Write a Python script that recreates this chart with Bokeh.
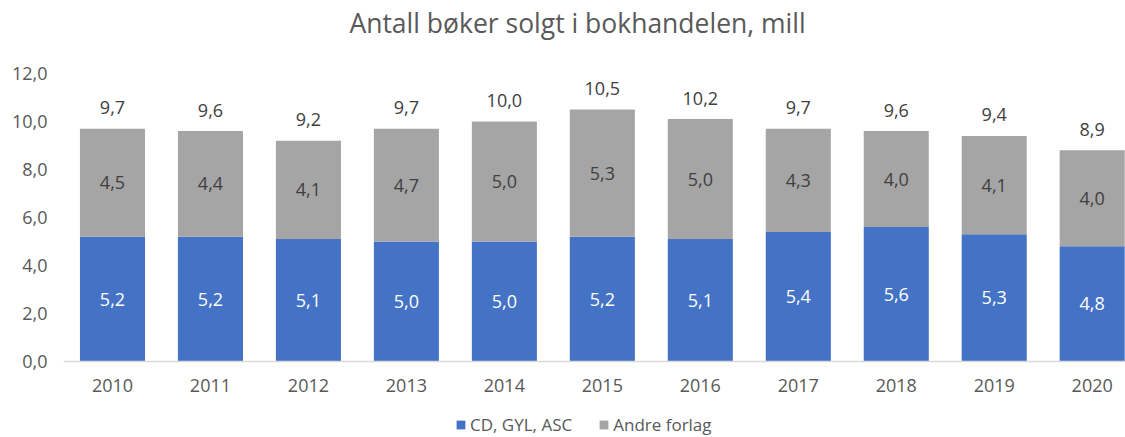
from bokeh.plotting import figure
from bokeh.models import (ColumnDataSource, Range1d, FixedTicker, CustomJSTickFormatter,
                          Legend, LegendItem, Label, Span)
from bokeh.core.properties import value
from bokeh.embed import file_html
from bokeh.resources import INLINE

years = ["2010", "2011", "2012", "2013", "2014", "2015", "2016", "2017", "2018", "2019", "2020"]
cd_gyl_asc = [5.2, 5.2, 5.1, 5.0, 5.0, 5.2, 5.1, 5.4, 5.6, 5.3, 4.8]
andre_forlag = [4.5, 4.4, 4.1, 4.7, 5.0, 5.3, 5.0, 4.3, 4.0, 4.1, 4.0]
totals = [9.7, 9.6, 9.2, 9.7, 10.0, 10.5, 10.2, 9.7, 9.6, 9.4, 8.9]
y_ticks = [0, 2, 4, 6, 8, 10, 12]

FONT = "Open Sans"
TXT = "#595959"
LBL = "#404040"
BLUE = "#4472C4"
GRAY = "#A5A5A5"

W, H = 1125, 437
LEFT = 63          # space for y tick labels
PLOT_TOP = 73      # pixel row of y = 12
PLOT_BOTTOM = 361  # pixel row of y = 0
px_per_unit = (PLOT_BOTTOM - PLOT_TOP) / 12.0

def fmt(v):
    return f"{v:.1f}".replace(".", ",")

xs = list(range(len(years)))
top = [b + g for b, g in zip(cd_gyl_asc, andre_forlag)]
src = ColumnDataSource(dict(
    x=xs,
    year=years,
    zero=[0] * len(xs),
    blue=cd_gyl_asc,
    gray=andre_forlag,
    top=top,
    blue_mid=[b / 2 for b in cd_gyl_asc],
    gray_mid=[b + g / 2 for b, g in zip(cd_gyl_asc, andre_forlag)],
    blue_lbl=[fmt(v) for v in cd_gyl_asc],
    gray_lbl=[fmt(v) for v in andre_forlag],
    tot_lbl=[fmt(v) for v in totals],
))

y_end = 12 + PLOT_TOP / px_per_unit
y_start = -(H - PLOT_BOTTOM) / px_per_unit

p = figure(width=W, height=H, output_backend="svg", toolbar_location=None,
           x_range=Range1d(-0.5, 10.34), y_range=Range1d(y_start, y_end),
           min_border_left=LEFT, min_border_right=0, min_border_top=0, min_border_bottom=0,
           title=None)
p.outline_line_color = None
p.xgrid.grid_line_color = None
p.ygrid.grid_line_color = None
p.xaxis.visible = False
p.background_fill_color = "white"
p.border_fill_color = "white"

r_blue = p.vbar(x="x", bottom=0, top="blue", width=0.664, source=src,
                fill_color=BLUE, line_color=None)
r_gray = p.vbar(x="x", bottom="blue", top="top", width=0.664, source=src,
                fill_color=GRAY, line_color=None)

# x axis line at y = 0
p.add_layout(Span(location=0, dimension="width", line_color="#D9D9D9", line_width=1.5))

p.text(x="x", y="blue_mid", text="blue_lbl", source=src, text_align="center",
       text_baseline="middle", text_color="white", text_font=value(FONT),
       text_font_size="18px")
p.text(x="x", y="gray_mid", text="gray_lbl", source=src, text_align="center",
       text_baseline="middle", text_color=LBL, text_font=value(FONT),
       text_font_size="18px")
p.text(x="x", y="top", text="tot_lbl", source=src, text_align="center",
       text_baseline="middle", text_color=LBL, text_font=value(FONT),
       text_font_size="18px", y_offset=-21)
# category (year) labels
p.text(x="x", y="zero", text="year", source=src, text_align="center",
       text_baseline="middle", text_color=TXT, text_font=value(FONT),
       text_font_size="18px", y_offset=24)

# y axis
p.yaxis.ticker = FixedTicker(ticks=y_ticks)
p.yaxis.formatter = CustomJSTickFormatter(code="return tick.toFixed(1).replace('.', ',');")
p.yaxis.axis_line_color = None
p.yaxis.major_tick_line_color = None
p.yaxis.minor_tick_line_color = None
p.yaxis.major_tick_out = 0
p.yaxis.major_tick_in = 0
p.yaxis.major_label_text_font = FONT
p.yaxis.major_label_text_font_size = "18px"
p.yaxis.major_label_text_color = TXT
p.yaxis.major_label_standoff = 16

# title
p.add_layout(Label(x=577 - LEFT, y=H - 22, x_units="screen", y_units="screen",
                   text="Antall bøker solgt i bokhandelen, mill",
                   text_align="center", text_baseline="middle",
                   text_font=FONT, text_font_size="26.5px", text_color=TXT))

legend = Legend(items=[LegendItem(label="CD, GYL, ASC", renderers=[r_blue]),
                       LegendItem(label="Andre forlag", renderers=[r_gray])],
                orientation="horizontal", location=(455 - LEFT, 1),
                glyph_width=11, glyph_height=11, label_standoff=4, spacing=26,
                padding=0, margin=0, border_line_color=None, background_fill_alpha=0,
                label_text_font=FONT, label_text_font_size="17px", label_text_color=TXT)
p.add_layout(legend, "center")

open("out.html", "w").write(file_html(p, INLINE))
